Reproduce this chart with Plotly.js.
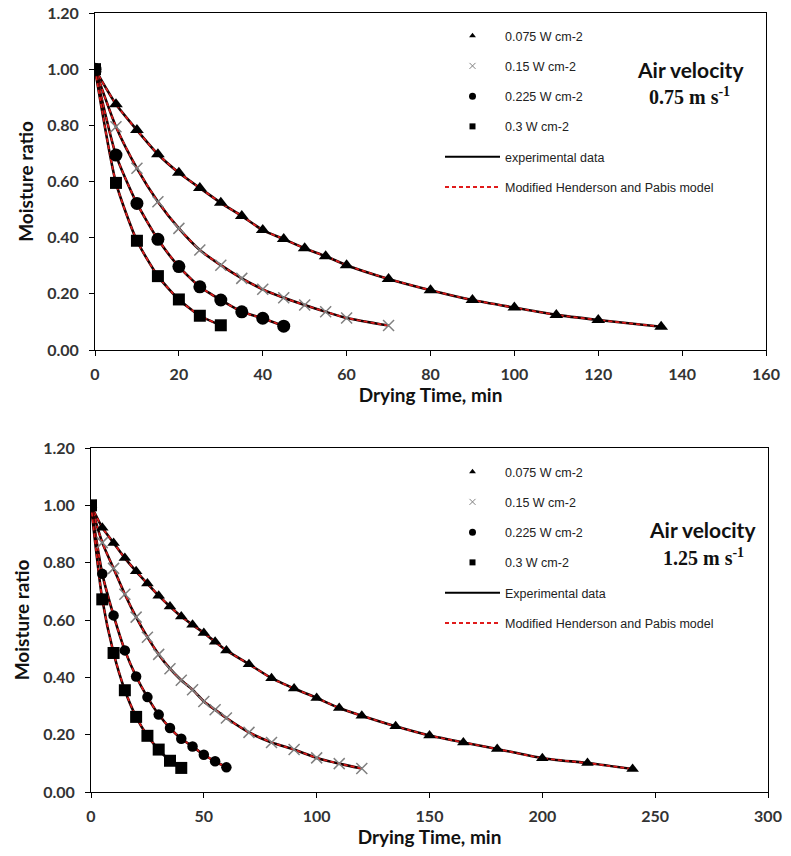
<!DOCTYPE html>
<html>
<head>
<meta charset="utf-8">
<script src="https://cdn.plot.ly/plotly-3.0.1.min.js"></script>
<style>html,body{margin:0;padding:0;background:#fff;}#chart{width:791px;height:856px;}</style>
</head>
<body>
<div id="chart"></div>
<script>
// ---------- Air velocity 0.75 m s-1 (top) ----------
const topT075 = [0,5,10,15,20,25,30,35,40,45,50,55,60,70,80,90,100,110,120,135];
const topMR075 = [1.00,0.875,0.783,0.697,0.631,0.577,0.524,0.477,0.427,0.395,0.362,0.334,0.302,0.253,0.213,0.178,0.151,0.125,0.107,0.083];
const topT015 = [0,5,10,15,20,25,30,35,40,45,50,55,60,70];
const topMR015 = [1.00,0.795,0.647,0.528,0.433,0.356,0.302,0.255,0.216,0.186,0.160,0.136,0.114,0.087];
const topT0225 = [0,5,10,15,20,25,30,35,40,45];
const topMR0225 = [1.00,0.694,0.522,0.394,0.297,0.225,0.178,0.136,0.113,0.085];
const topT03 = [0,5,10,15,20,25,30];
const topMR03 = [1.00,0.595,0.389,0.263,0.180,0.122,0.088];

// ---------- Air velocity 1.25 m s-1 (bottom) ----------
const botT075 = [0,5,10,15,20,25,30,35,40,45,50,55,60,70,80,90,100,110,120,135,150,165,180,200,220,240];
const botMR075 = [1.00,0.922,0.869,0.816,0.770,0.727,0.685,0.647,0.612,0.583,0.555,0.524,0.494,0.446,0.397,0.361,0.328,0.293,0.266,0.229,0.197,0.173,0.150,0.118,0.101,0.080];
const botT015 = [0,5,10,15,20,25,30,35,40,45,50,55,60,70,80,90,100,110,120];
const botMR015 = [1.00,0.87,0.78,0.69,0.61,0.54,0.48,0.43,0.39,0.357,0.316,0.287,0.258,0.208,0.173,0.148,0.119,0.099,0.082];
const botT0225 = [0,5,10,15,20,25,30,35,40,45,50,55,60];
const botMR0225 = [1.00,0.761,0.616,0.494,0.403,0.331,0.270,0.223,0.186,0.159,0.130,0.107,0.086];
const botT03 = [0,5,10,15,20,25,30,35,40];
const botMR03 = [1.00,0.672,0.485,0.355,0.262,0.196,0.148,0.109,0.084];

const seriesNames = ['0.075 W cm-2','0.15 W cm-2','0.225 W cm-2','0.3 W cm-2'];
const topLineNames = ['experimental data','Modified Henderson and Pabis model'];
const botLineNames = ['Experimental data','Modified Henderson and Pabis model'];
const xTitle = 'Drying Time, min';
const yTitle = 'Moisture ratio';
const topVelocity = '0.75 m s<sup>-1</sup>';
const botVelocity = '1.25 m s<sup>-1</sup>';

const symbols = ['triangle-up','x-thin','circle','square'];
const mColors = ['#000','#808080','#000','#000'];

function buildPanel(sets, xa, ya, legendId, lineNames, sizes) {
  const tr = [];
  sets.forEach(s => {
    tr.push({x:s[0], y:s[1], xaxis:xa, yaxis:ya, mode:'lines', line:{color:'#1a0000', width:2.6, shape:'spline', smoothing:0.6}, showlegend:false, hoverinfo:'skip'});
    tr.push({x:s[0], y:s[1], xaxis:xa, yaxis:ya, mode:'lines', line:{color:'#e01b1b', width:1.7, dash:'4px,3px', shape:'spline', smoothing:0.6}, showlegend:false, hoverinfo:'skip'});
  });
  sets.forEach((s,i) => {
    const isX = symbols[i]==='x-thin';
    tr.push({x:s[0], y:s[1], xaxis:xa, yaxis:ya, mode:'markers', showlegend:false,
      marker:{symbol:symbols[i], size:sizes[i], color:mColors[i], line:{color:mColors[i], width:isX?1.5:0}}});
  });
  // legend proxies
  seriesNames.forEach((n,i) => {
    const isX = symbols[i]==='x-thin';
    tr.push({x:[null], y:[null], xaxis:xa, yaxis:ya, mode:'markers', name:n, legend:legendId, legendgroup:legendId+'g'+i,
      marker:{symbol:symbols[i], size:i===2?7:6, color:mColors[i], line:{color:mColors[i], width:isX?1:0}}});
  });
  tr.push({x:[null], y:[null], xaxis:xa, yaxis:ya, mode:'lines', name:lineNames[0], legend:legendId, legendgroup:legendId+'l0', line:{color:'#000', width:2}});
  tr.push({x:[null], y:[null], xaxis:xa, yaxis:ya, mode:'lines', name:lineNames[1], legend:legendId, legendgroup:legendId+'l1', line:{color:'#e01b1b', width:2, dash:'4px,3px'}});
  return tr;
}

const data = [].concat(
  buildPanel([[topT075,topMR075],[topT015,topMR015],[topT0225,topMR0225],[topT03,topMR03]], 'x','y','legend',topLineNames,[12,11,13,12]),
  buildPanel([[botT075,botMR075],[botT015,botMR015],[botT0225,botMR0225],[botT03,botMR03]], 'x2','y2','legend2',botLineNames,[11,11,10.5,12])
);

const W = 791, H = 856;
const px = v => v / W, py = v => 1 - v / H;
const tickFont = {family:'Lato, sans-serif', size:16, color:'#333', weight:'bold'};
const titleFont = {family:'Lato, sans-serif', size:19, color:'#111', weight:'bold'};
function axisX(range, dtick, domain, anchor) {
  return {domain:domain, anchor:anchor, range:range, dtick:dtick, tick0:0, showgrid:false, zeroline:false,
    showline:true, linecolor:'#000', linewidth:1, mirror:true, ticks:'outside', ticklen:5, tickcolor:'#000',
    tickfont:tickFont, ticklabelstandoff:5, title:{text:xTitle, font:titleFont, standoff:2}};
}
function axisY(domain, anchor) {
  return {domain:domain, anchor:anchor, range:[0,1.2], dtick:0.2, tick0:0, tickformat:'.2f', showgrid:false, zeroline:false,
    showline:true, linecolor:'#000', linewidth:1, mirror:true, ticks:'outside', ticklen:5, tickcolor:'#000',
    tickfont:tickFont, ticklabelstandoff:7, title:{text:yTitle, font:titleFont, standoff:8}};
}
const legFont = {family:'"Liberation Sans", Arial, sans-serif', size:12.5, color:'#222'};
const layout = {
  width:W, height:H, margin:{l:0,r:0,t:0,b:0, autoexpand:false},
  paper_bgcolor:'#fff', plot_bgcolor:'#fff', showlegend:true,
  xaxis: axisX([0,160], 20, [px(95), px(766)], 'y'),
  yaxis: axisY([py(350), py(13)], 'x'),
  xaxis2: axisX([0,300], 50, [px(91), px(768)], 'y2'),
  yaxis2: axisY([py(792), py(448)], 'x2'),
  legend: {x:px(440), y:py(21), xanchor:'left', yanchor:'top', bgcolor:'rgba(0,0,0,0)', font:legFont, itemwidth:55, tracegroupgap:11, traceorder:'grouped'},
  legend2: {x:px(440), y:py(457), xanchor:'left', yanchor:'top', bgcolor:'rgba(0,0,0,0)', font:legFont, itemwidth:55, tracegroupgap:11, traceorder:'grouped'},
  annotations: [
    {xref:'paper', yref:'paper', x:px(690), y:py(70), text:'Air velocity', showarrow:false, xanchor:'center', yanchor:'middle', font:{family:'Lato, sans-serif', size:21, color:'#111', weight:'bold'}},
    {xref:'paper', yref:'paper', x:px(689), y:py(96), text:topVelocity, showarrow:false, xanchor:'center', yanchor:'middle', font:{family:'"Liberation Serif", "Times New Roman", serif', size:20, color:'#111', weight:'bold'}},
    {xref:'paper', yref:'paper', x:px(702), y:py(529), text:'Air velocity', showarrow:false, xanchor:'center', yanchor:'middle', font:{family:'Lato, sans-serif', size:21, color:'#111', weight:'bold'}},
    {xref:'paper', yref:'paper', x:px(703), y:py(557), text:botVelocity, showarrow:false, xanchor:'center', yanchor:'middle', font:{family:'"Liberation Serif", "Times New Roman", serif', size:20, color:'#111', weight:'bold'}}
  ]
};
Plotly.newPlot('chart', data, layout, {displayModeBar:false, staticPlot:true});
</script>
</body>
</html>
